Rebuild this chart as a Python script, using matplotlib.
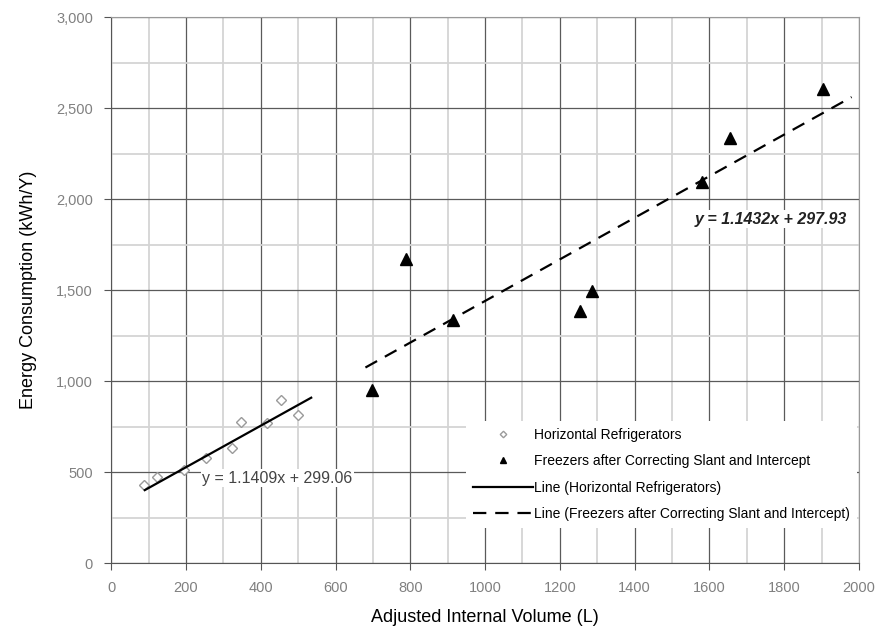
import numpy as np
import matplotlib
matplotlib.use("Agg")
import matplotlib.pyplot as plt
from matplotlib.ticker import MultipleLocator, FuncFormatter

plt.rcParams['font.family'] = ['Liberation Sans', 'DejaVu Sans']

# horizontal refrigerators
ref_x = [88, 123, 195, 254, 324, 348, 418, 455, 501]
ref_y = [429, 473, 511, 577, 632, 775, 769, 896, 813]

# freezers after correcting slant and intercept
frz_x = [697, 789, 914, 1255, 1287, 1579, 1654, 1904]
frz_y = [951, 1674, 1335, 1385, 1495, 2095, 2334, 2608]

# trend lines as printed on the chart
ref_fit = (1.1409, 299.06)
frz_fit = (1.1432, 297.93)
ref_span = [90, 535]
frz_span = [680, 1980]

fig = plt.figure(figsize=(8.82, 6.4), dpi=100)
ax = fig.add_axes([0.126, 0.120, 0.848, 0.853])

ax.set_xlim(0, 2000)
ax.set_ylim(0, 3000)
ax.xaxis.set_major_locator(MultipleLocator(200))
ax.xaxis.set_minor_locator(MultipleLocator(100))
ax.yaxis.set_major_locator(MultipleLocator(500))
ax.yaxis.set_minor_locator(MultipleLocator(250))
ax.yaxis.set_major_formatter(FuncFormatter(lambda v, p: f"{int(v):,}"))

ax.grid(which='minor', color='#d4d4d4', lw=1.3, zorder=0)
ax.grid(which='major', color='#5a5a5a', lw=0.9, zorder=0)
ax.set_axisbelow(True)
for s in ['top', 'right']:
    ax.spines[s].set_color('#999999')
for s in ['left', 'bottom']:
    ax.spines[s].set_color('#555555')
ax.tick_params(which='major', direction='out', length=5, color='#555555',
               labelsize=10.5, labelcolor='#808080', pad=8)
ax.tick_params(which='minor', length=0)

ax.plot(ref_x, ref_y, 'D', ms=5.5, mfc='white', mec='#9a9a9a', mew=1.0,
        label='Horizontal Refrigerators', zorder=3)
ax.plot(frz_x, frz_y, '^', ms=8, color='black',
        label='Freezers after Correcting Slant and Intercept', zorder=3)

rx = np.array(ref_span)
ax.plot(rx, ref_fit[0] * rx + ref_fit[1], '-', color='black', lw=1.6,
        label='Line (Horizontal Refrigerators)', zorder=4)
fx = np.array(frz_span)
ax.plot(fx, frz_fit[0] * fx + frz_fit[1], '--', color='black', lw=1.6,
        dashes=(6, 4),
        label='Line (Freezers after Correcting Slant and Intercept)', zorder=4)

ax.text(244, 467, 'y = 1.1409x + 299.06', fontsize=11.5, color='#444444',
        va='center', ha='left', zorder=5,
        bbox=dict(facecolor='white', edgecolor='none', pad=1))
ax.text(1968, 1890, 'y = 1.1432x + 297.93', fontsize=11.5, color='#222222',
        style='italic', weight='bold', va='center', ha='right', zorder=5,
        bbox=dict(facecolor='white', edgecolor='none', pad=1))

leg = ax.legend(loc='lower right', bbox_to_anchor=(0.997, 0.064),
                borderaxespad=0, fontsize=10, frameon=True, fancybox=False,
                handlelength=4.3, handletextpad=0.1, labelspacing=0.9,
                borderpad=0.5, markerscale=0.6)
leg.get_frame().set_facecolor('white')
leg.get_frame().set_edgecolor('none')
leg.get_frame().set_alpha(1)

ax.set_xlabel('Adjusted Internal Volume (L)', fontsize=13, labelpad=10)
ax.set_ylabel('Energy Consumption (kWh/Y)', fontsize=13, labelpad=14)

fig.savefig('out.png', dpi=100)
